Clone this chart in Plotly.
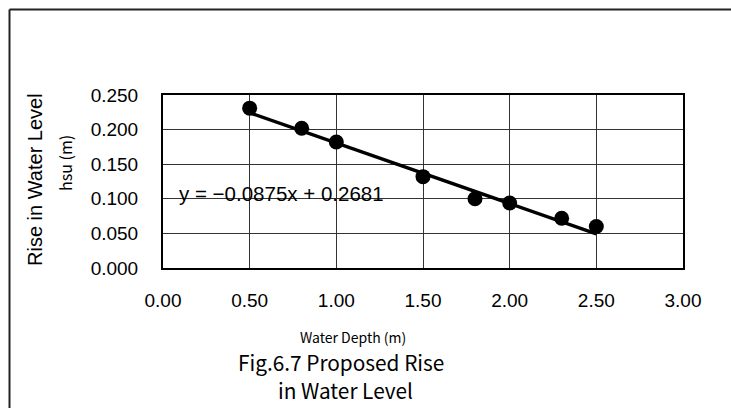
import plotly.graph_objects as go

# Data
depth = [0.5, 0.8, 1.0, 1.5, 1.8, 2.0, 2.3, 2.5]
rise = [0.231, 0.202, 0.182, 0.132, 0.100, 0.094, 0.072, 0.060]
slope = -0.0875
intercept = 0.2681
x_ticks = [0.0, 0.5, 1.0, 1.5, 2.0, 2.5, 3.0]
y_ticks = [0.0, 0.05, 0.10, 0.15, 0.20, 0.25]

SANS = "Liberation Sans, Arial, sans-serif"
CJK = "Noto Sans CJK JP, sans-serif"

trend_x = [min(depth), max(depth)]
trend_y = [slope * v + intercept for v in trend_x]

fig = go.Figure()
fig.add_trace(go.Scatter(x=trend_x, y=trend_y, mode="lines",
                         line=dict(color="black", width=3.5), showlegend=False,
                         hoverinfo="skip"))
fig.add_trace(go.Scatter(x=depth, y=rise, mode="markers",
                         marker=dict(color="black", size=15), showlegend=False))

fig.update_layout(
    width=731, height=408,
    margin=dict(l=163, r=48, t=95, b=140),
    paper_bgcolor="white", plot_bgcolor="white",
    font=dict(family=SANS, color="black", size=16),
    xaxis=dict(range=[0, 3], tickvals=x_ticks, tickformat=".2f",
               showgrid=True, gridcolor="#333333", gridwidth=1,
               showline=True, linecolor="black", linewidth=2, mirror=True,
               zeroline=False, ticks="", ticklabelstandoff=14,
               tickfont=dict(size=19, family=SANS)),
    yaxis=dict(range=[0, 0.25], tickvals=y_ticks, tickformat=".3f",
               showgrid=True, gridcolor="#333333", gridwidth=1,
               showline=True, linecolor="black", linewidth=2, mirror=True,
               zeroline=False, ticks="", ticklabelstandoff=19,
               tickfont=dict(size=19, family=SANS)),
    shapes=[
        dict(type="line", xref="paper", yref="paper",
             x0=(9.5 - 163) / 520, x1=(740 - 163) / 520,
             y0=(408 - 9.5 - 140) / 173, y1=(408 - 9.5 - 140) / 173,
             line=dict(color="#222222", width=2)),
        dict(type="line", xref="paper", yref="paper",
             x0=(9.5 - 163) / 520, x1=(9.5 - 163) / 520,
             y0=(408 - 9.5 - 140) / 173, y1=-1,
             line=dict(color="#222222", width=2)),
    ],
    annotations=[
        dict(text="Rise in Water Level", textangle=-90, showarrow=False,
             xref="paper", yref="paper", x=(35 - 163) / 520, y=(268 - 180) / 173,
             xanchor="center", yanchor="middle", font=dict(size=20, family=SANS)),
        dict(text="hsu (m)", textangle=-90, showarrow=False,
             xref="paper", yref="paper", x=(65 - 163) / 520, y=(268 - 163) / 173,
             xanchor="center", yanchor="middle", font=dict(size=16, family=CJK)),
        dict(text="y = −0.0875x + 0.2681", showarrow=False,
             xref="paper", yref="paper", x=(177 - 163) / 520, y=(268 - 193) / 173,
             xanchor="left", yanchor="middle", font=dict(size=20.5, family=SANS)),
        dict(text="Water Depth (m)", showarrow=False,
             xref="paper", yref="paper", x=(353 - 163) / 520, y=(268 - 337) / 173,
             xanchor="center", yanchor="middle", font=dict(size=14, family=CJK)),
        dict(text="Fig.6.7 Proposed Rise", showarrow=False,
             xref="paper", yref="paper", x=(341 - 163) / 520, y=(268 - 362) / 173,
             xanchor="center", yanchor="middle", font=dict(size=20.8, family=CJK)),
        dict(text="in Water Level", showarrow=False,
             xref="paper", yref="paper", x=(345 - 163) / 520, y=(268 - 390) / 173,
             xanchor="center", yanchor="middle", font=dict(size=20.8, family=CJK)),
    ],
)

fig.write_html("out.html")
